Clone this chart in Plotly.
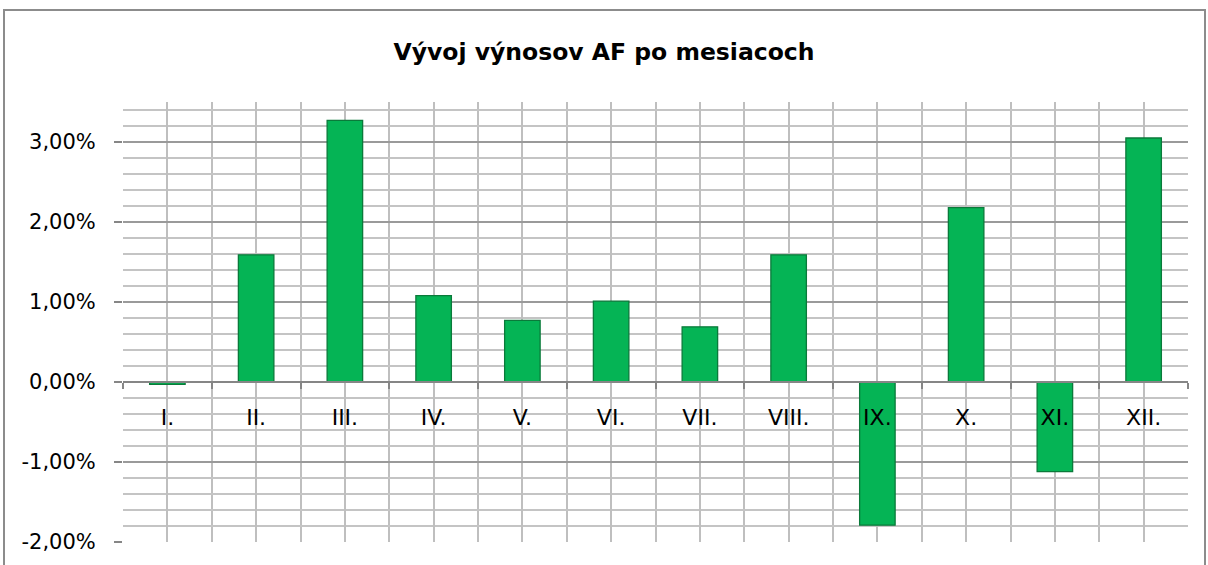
import plotly.graph_objects as go

months = ["I.", "II.", "III.", "IV.", "V.", "VI.", "VII.", "VIII.", "IX.", "X.", "XI.", "XII."]
returns_pct = [-0.03, 1.59, 3.27, 1.08, 0.77, 1.01, 0.69, 1.59, -1.79, 2.18, -1.12, 3.05]
y_ticks = [-2, -1, 0, 1, 2, 3]
y_tick_labels = ["-2,00%", "-1,00%", "0,00%", "1,00%", "2,00%", "3,00%"]
y_range = [-2, 3.5]
title_text = "Vývoj výnosov AF po mesiacoch"

W, H = 1208, 565
ML, MR, MT, MB = 123, 20, 102, 23

idx = list(range(len(months)))
boundaries = [i - 0.5 for i in range(len(months) + 1)]
zero_pos = (0 - y_range[0]) / (y_range[1] - y_range[0])

FONT = "DejaVu Sans"

fig = go.Figure()
fig.add_trace(go.Bar(
    x=idx, y=returns_pct, width=0.4,
    marker=dict(color="#05B455", line=dict(color="#0A7A3A", width=1.3)),
    hovertemplate="%{customdata}: %{y:.2f}%<extra></extra>",
    customdata=months,
))

fig.update_layout(
    width=W, height=H,
    margin=dict(l=ML, r=MR, t=MT, b=MB, pad=0),
    paper_bgcolor="white", plot_bgcolor="white",
    showlegend=False,
    title=dict(text="<b>" + title_text + "</b>", x=0.5, xanchor="center",
               y=1 - 52 / H, yanchor="middle",
               font=dict(family=FONT, size=23.5, color="black")),
    font=dict(family=FONT, size=20, color="black"),
    xaxis=dict(
        range=[-0.5, len(months) - 0.5],
        tickmode="array", tickvals=idx, ticktext=months,
        ticks="", showgrid=True, gridcolor="#BFBFBF", gridwidth=1.5,
        zeroline=False,
        showline=True, linecolor="#868686", linewidth=1.5,
        anchor="free", position=zero_pos,
        ticklabelstandoff=16,
        tickfont=dict(family=FONT, size=22, color="black"),
        minor=dict(tickmode="array", tickvals=boundaries, ticks="outside",
                   ticklen=6, tickcolor="#868686", tickwidth=1.5,
                   showgrid=True, gridcolor="#BFBFBF", gridwidth=1.5),
        fixedrange=True,
    ),
    yaxis=dict(
        range=y_range,
        tickmode="array", tickvals=y_ticks, ticktext=y_tick_labels,
        ticks="outside", ticklen=8, tickcolor="#868686", tickwidth=1.5,
        showgrid=True, gridcolor="#9A9A9A", gridwidth=1.5,
        zeroline=True, zerolinecolor="#868686", zerolinewidth=1.5,
        showline=False,
        ticklabelstandoff=14,
        tickfont=dict(family=FONT, size=21, color="black"),
        minor=dict(dtick=0.2, tick0=y_range[0], showgrid=True,
                   gridcolor="#C4C4C4", gridwidth=1.5, ticks=""),
        fixedrange=True,
    ),
)

pw = W - ML - MR
ph = H - MT - MB
fig.add_shape(type="rect", xref="paper", yref="paper", layer="below",
              x0=(4 - ML) / pw, x1=(1205 - ML) / pw,
              y0=-(MB + 20) / ph, y1=1 + (MT - 10) / ph,
              line=dict(color="#8C8C8C", width=2), fillcolor="rgba(0,0,0,0)")

fig.write_html("out.html", config={"displayModeBar": False})

with open("out.html", "r", encoding="utf-8") as f:
    html = f.read()
html = html.replace("<head>", "<head><style>html,body{margin:0;padding:0;overflow:hidden;}</style>", 1)
with open("out.html", "w", encoding="utf-8") as f:
    f.write(html)
